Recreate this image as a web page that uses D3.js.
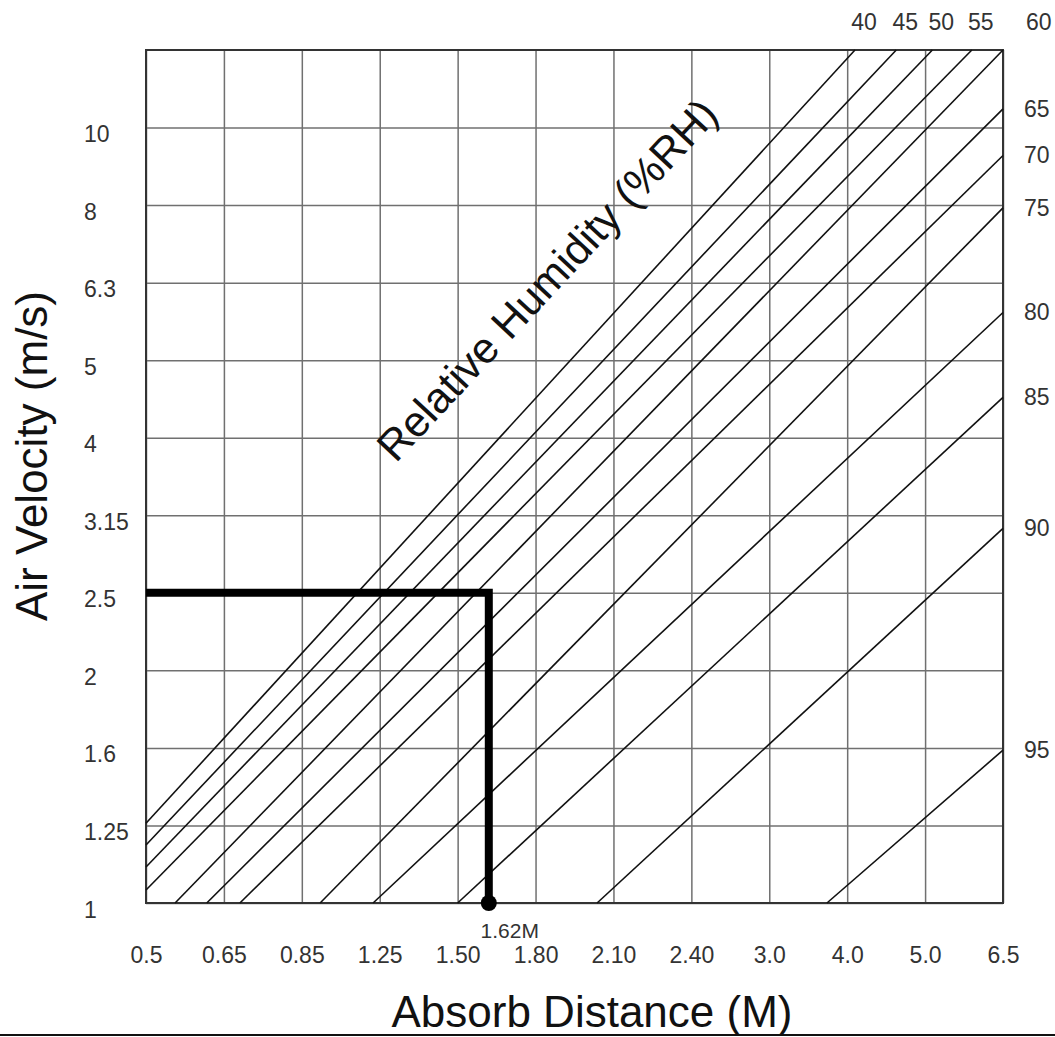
<!DOCTYPE html>
<html>
<head>
<meta charset="utf-8">
<script src="https://cdn.jsdelivr.net/npm/d3@7"></script>
<style>
  html, body { margin: 0; padding: 0; background: #fff; }
  svg { display: block; }
</style>
</head>
<body>
<svg id="chart" width="1055" height="1037"></svg>
<script>
// ---------- data ----------
const xTicks = [0.5, 0.65, 0.85, 1.25, 1.5, 1.8, 2.1, 2.4, 3.0, 4.0, 5.0, 6.5];
const xLabels = ["0.5", "0.65", "0.85", "1.25", "1.50", "1.80", "2.10", "2.40", "3.0", "4.0", "5.0", "6.5"];
const yTicks = [1, 1.25, 1.6, 2, 2.5, 3.15, 4, 5, 6.3, 8, 10];
const yLabels = ["1", "1.25", "1.6", "2", "2.5", "3.15", "4", "5", "6.3", "8", "10"];
const yTop = 12.5; // unlabeled top edge of the grid

const rhLevels    = [40, 45, 50, 55, 60, 65, 70, 75, 80, 85, 90, 95];
const rhStartDist = [0.5, 0.5, 0.5, 0.5, 0.556, 0.617, 0.691, 0.944, 1.216, 1.50, 2.037, 3.74];
const rhStartVel  = [1.26, 1.187, 1.116, 1.042, 1, 1, 1, 1, 1, 1, 1, 1];
const rhEndDist   = [4.10, 4.63, 5.14, 5.9, 6.5, 6.5, 6.5, 6.5, 6.5, 6.5, 6.5, 6.5];
const rhEndVel    = [12.5, 12.5, 12.5, 12.5, 12.5, 10.6, 9.28, 7.94, 5.80, 4.52, 3.04, 1.59];

const exampleVelocity = 2.5;
const exampleDistance = 1.62;

// ---------- layout ----------
const pLeft = 146, pRight = 1003, pTop = 50, pBottom = 903;
const svg = d3.select("#chart");
const FONT = "'Liberation Sans', Arial, sans-serif";
const TICK_FS = 23;

const xRange = xTicks.map((d, i) => pLeft + i * (pRight - pLeft) / (xTicks.length - 1));
const x = d3.scaleLinear().domain(xTicks).range(xRange);
const yDom = yTicks.concat([yTop]);
const yRange = yDom.map((d, i) => pBottom - i * (pBottom - pTop) / (yDom.length - 1));
const y = d3.scaleLinear().domain(yDom).range(yRange);

// grid via axes
const gx = svg.append("g")
  .attr("transform", `translate(0,${pBottom})`)
  .call(d3.axisBottom(x).tickValues(xTicks).tickFormat((d, i) => xLabels[i])
        .tickSize(-(pBottom - pTop)).tickPadding(44));
gx.select(".domain").remove();
gx.selectAll(".tick line").attr("stroke", "#707070").attr("stroke-width", 1.5);
gx.selectAll(".tick text").attr("font-family", FONT).attr("font-size", TICK_FS).attr("fill", "#333");

const gy = svg.append("g")
  .attr("transform", `translate(${pLeft},0)`)
  .call(d3.axisLeft(y).tickValues(yTicks).tickFormat((d, i) => yLabels[i])
        .tickSize(-(pRight - pLeft)));
gy.select(".domain").remove();
gy.selectAll(".tick line").attr("stroke", "#707070").attr("stroke-width", 1.5);
gy.selectAll(".tick text")
  .attr("font-family", FONT).attr("font-size", TICK_FS).attr("fill", "#333")
  .attr("text-anchor", "start").attr("x", 84 - pLeft).attr("dy", 14);

// border
svg.append("rect")
  .attr("x", pLeft).attr("y", pTop)
  .attr("width", pRight - pLeft).attr("height", pBottom - pTop)
  .attr("fill", "none").attr("stroke", "#333").attr("stroke-width", 2);

// RH lines
const line = d3.line().x(d => x(d[0])).y(d => y(d[1]));
const rhData = rhLevels.map((rh, i) => ({
  rh,
  pts: [[rhStartDist[i], rhStartVel[i]], [rhEndDist[i], rhEndVel[i]]]
}));
svg.append("g").selectAll("path").data(rhData).join("path")
  .attr("d", d => line(d.pts))
  .attr("fill", "none").attr("stroke", "#111").attr("stroke-width", 1.6);

// RH labels
svg.append("g").selectAll("text").data(rhData).join("text")
  .attr("font-family", FONT).attr("font-size", TICK_FS).attr("fill", "#333")
  .each(function (d) {
    const ex = d.pts[1][0], ev = d.pts[1][1];
    const t = d3.select(this).text(d.rh);
    if (ev >= yTop && ex < xTicks[xTicks.length - 1]) {
      t.attr("x", x(ex) + 9).attr("y", 30).attr("text-anchor", "middle");
    } else if (ev >= yTop) {
      t.attr("x", pRight + 23).attr("y", 30).attr("text-anchor", "start");
    } else {
      t.attr("x", pRight + 21).attr("y", y(ev) + 8).attr("text-anchor", "start");
    }
  });

// example reading (thick path + dot)
svg.append("path")
  .attr("d", `M${x(xTicks[0])},${y(exampleVelocity)}H${x(exampleDistance)}V${y(yTicks[0])}`)
  .attr("fill", "none").attr("stroke", "#000").attr("stroke-width", 8)
  .attr("stroke-linejoin", "miter");
svg.append("circle")
  .attr("cx", x(exampleDistance)).attr("cy", y(yTicks[0])).attr("r", 8).attr("fill", "#000");
svg.append("text")
  .attr("x", x(exampleDistance) + 21).attr("y", 938)
  .attr("text-anchor", "middle")
  .attr("font-family", FONT).attr("font-size", 21).attr("fill", "#333")
  .text(exampleDistance.toFixed(2) + "M");

// diagonal annotation
svg.append("text")
  .attr("transform", "translate(558,290) rotate(-47)")
  .attr("text-anchor", "middle")
  .attr("font-family", FONT).attr("font-size", 43).attr("fill", "#111")
  .text("Relative Humidity (%RH)");

// axis titles
svg.append("text")
  .attr("x", 592).attr("y", 1027).attr("text-anchor", "middle")
  .attr("font-family", FONT).attr("font-size", 44).attr("fill", "#111")
  .text("Absorb Distance (M)");
svg.append("text")
  .attr("transform", "translate(47,456) rotate(-90)").attr("text-anchor", "middle")
  .attr("font-family", FONT).attr("font-size", 44).attr("fill", "#111")
  .text("Air Velocity (m/s)");

// bottom rule
svg.append("line")
  .attr("x1", 0).attr("x2", 1055).attr("y1", 1035).attr("y2", 1035)
  .attr("stroke", "#111").attr("stroke-width", 2);
</script>
</body>
</html>
